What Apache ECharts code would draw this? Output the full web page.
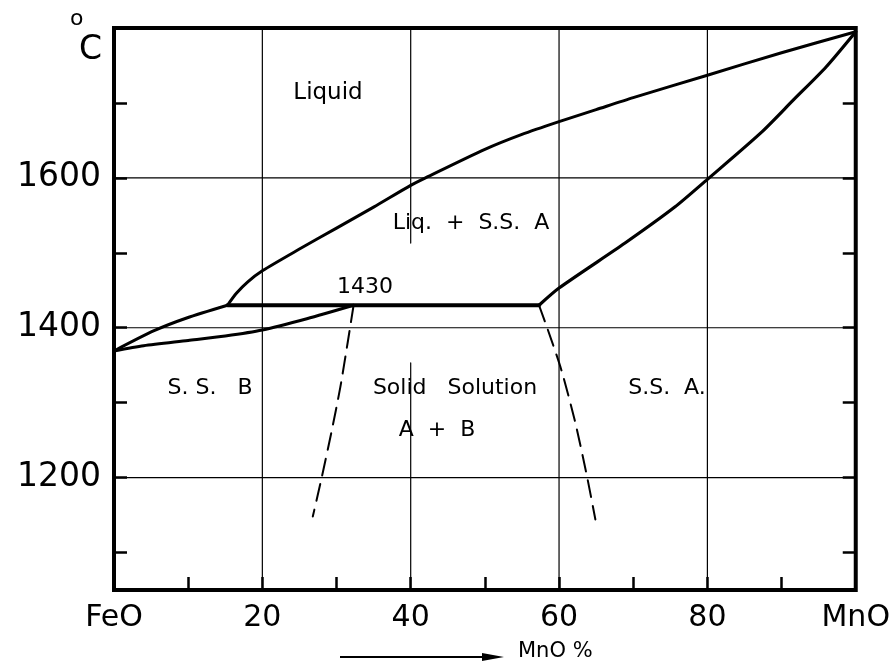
<!DOCTYPE html>
<html>
<head>
<meta charset="utf-8">
<script src="https://cdn.jsdelivr.net/npm/echarts@6/dist/echarts.min.js"></script>
<style>
html, body { margin: 0; padding: 0; background: #fff; }
#chart { width: 893px; height: 668px; }
</style>
</head>
<body>
<div id="chart"></div>
<script>
// FeO–MnO binary system: temperature (°C) against composition (% MnO)

// Axis ticks and their labels
const xTickValues = [0, 20, 40, 60, 80, 100];
const xTickLabels = ['FeO', '20', '40', '60', '80', 'MnO'];
const xMinorTicks = [10, 20, 30, 40, 50, 60, 70, 80, 90];
const yTickValues = [1200, 1400, 1600];
const yTickLabels = ['1200', '1400', '1600'];
const yMinorTicks = [1100, 1200, 1300, 1400, 1500, 1600, 1700];

// Peritectic isotherm
const peritecticTemp = 1430;

// Liquidus on the FeO side, up to the peritectic point
const liquidusFeO = [[0, 1369], [5.4, 1396], [9.8, 1413], [15.3, 1430]];
// Liquidus from the peritectic point up to pure MnO
const liquidusMnO = [[15.3, 1430], [16.5, 1446], [18, 1461], [20, 1476], [25, 1505], [30, 1533],
  [35, 1561], [40, 1590], [42, 1600], [50, 1638], [55, 1658], [60, 1675], [65, 1691],
  [70, 1707], [80, 1737], [90, 1767], [100, 1795]];
// Solidus of solid solution B
const solidusB = [[0, 1369], [4, 1376], [10, 1383], [15, 1389], [20, 1397], [26, 1412], [32.3, 1430]];
// Solidus of solid solution A
const solidusA = [[57.3, 1430], [60, 1453], [68.9, 1513], [75.6, 1561], [80, 1598],
  [87.2, 1660], [91.6, 1704], [96, 1748], [100, 1795]];
// Ends of the peritectic isotherm
const isothermX = [15.3, 57.3];
// Solubility limits below the isotherm (estimated, dashed)
const solvusB = [[32.3, 1430], [31.5, 1380], [30.5, 1320], [29.3, 1260], [28, 1200], [26.8, 1148]];
const solvusA = [[57.3, 1430], [58.5, 1397], [60.3, 1344], [62.2, 1273], [63.8, 1200], [64.9, 1144]];

// Grid lines; the 40 % line is broken between the two field labels
const gridX = [20, 40, 60, 80];
const gridXGap = { x: 40, from: 1353, to: 1513 };
const gridY = [1200, 1400, 1600];

const X_MIN = 0, X_MAX = 100, Y_MIN = 1050, Y_MAX = 1800;
const FONT = 'DejaVu Sans';

function lineSeries(data, width, dashed, smooth) {
  return {
    type: 'line',
    data: data,
    symbol: 'none',
    smooth: smooth ? 0.25 : false,
    silent: true,
    lineStyle: { color: '#000', width: width, type: dashed ? [17, 9] : 'solid', cap: 'round', join: 'round' },
    z: dashed ? 3 : 4
  };
}

const series = [];
// vertical grid lines
gridX.forEach(function (x) {
  if (x === gridXGap.x) {
    series.push(lineSeries([[x, Y_MIN], [x, gridXGap.from]], 1.2));
    series.push(lineSeries([[x, gridXGap.to], [x, Y_MAX]], 1.2));
  } else {
    series.push(lineSeries([[x, Y_MIN], [x, Y_MAX]], 1.2));
  }
});
// horizontal grid lines
gridY.forEach(function (y) {
  series.push(lineSeries([[X_MIN, y], [X_MAX, y]], 1.2));
});
series.forEach(function (s) { s.z = 1; });

series.push(lineSeries(liquidusFeO, 3, false, true));
series.push(lineSeries(liquidusMnO, 3, false, true));
series.push(lineSeries(solidusB, 3, false, true));
series.push(lineSeries(solidusA, 3.2, false, true));
series.push(lineSeries(isothermX.map(function (x) { return [x, peritecticTemp]; }), 4));
series.push(lineSeries(solvusB, 2, true, true));
series.push(lineSeries(solvusA, 2, true, true));

const chart = echarts.init(document.getElementById('chart'), null, { renderer: 'canvas' });

const option = {
  animation: false,
  backgroundColor: '#fff',
  grid: {
    left: 114, top: 28, width: 749, height: 562,
    show: true, borderColor: '#000', borderWidth: 4, backgroundColor: 'transparent'
  },
  xAxis: {
    type: 'value', min: X_MIN, max: X_MAX,
    axisLine: { show: false },
    splitLine: { show: false },
    axisTick: {
      show: true, inside: true, length: 13, customValues: xMinorTicks,
      lineStyle: { color: '#000', width: 2.5 }
    },
    axisLabel: {
      show: true, customValues: xTickValues, margin: 13,
      fontFamily: FONT, fontSize: 30, color: '#000',
      formatter: function (v) { return xTickLabels[xTickValues.indexOf(v)]; }
    }
  },
  yAxis: [{
    type: 'value', min: Y_MIN, max: Y_MAX, position: 'left',
    axisLine: { show: false },
    splitLine: { show: false },
    axisTick: {
      show: true, inside: true, length: 13, customValues: yMinorTicks,
      lineStyle: { color: '#000', width: 2.5 }
    },
    axisLabel: {
      show: true, customValues: yTickValues, margin: 13,
      fontFamily: FONT, fontSize: 33, color: '#000',
      padding: [0, 0, 18, 0],
      formatter: function (v) { return yTickLabels[yTickValues.indexOf(v)]; }
    }
  }, {
    type: 'value', min: Y_MIN, max: Y_MAX, position: 'right',
    axisLine: { show: false },
    splitLine: { show: false },
    axisTick: {
      show: true, inside: true, length: 13, customValues: yMinorTicks,
      lineStyle: { color: '#000', width: 2.5 }
    },
    axisLabel: { show: false }
  }],
  series: series,
  graphic: [
    // unit of the temperature axis
    { type: 'text', left: 70, top: 8, style: { text: 'o', font: '22px "DejaVu Sans"', fill: '#000' } },
    { type: 'text', left: 79, top: 34, style: { text: 'C', font: '33px "DejaVu Sans"', fill: '#000' } },
    // phase field labels
    { type: 'text', x: 328, y: 93, style: { text: 'Liquid', font: '23px "DejaVu Sans"', fill: '#000', align: 'center', verticalAlign: 'middle' } },
    { type: 'text', x: 471, y: 223, style: { text: 'Liq.  +  S.S.  A', font: '22px "DejaVu Sans"', fill: '#000', align: 'center', verticalAlign: 'middle' } },
    { type: 'text', x: 365, y: 287, style: { text: String(peritecticTemp), font: '22px "DejaVu Sans"', fill: '#000', align: 'center', verticalAlign: 'middle' } },
    { type: 'text', x: 210, y: 388, style: { text: 'S. S.   B', font: '22px "DejaVu Sans"', fill: '#000', align: 'center', verticalAlign: 'middle' } },
    { type: 'text', x: 455, y: 388, style: { text: 'Solid   Solution', font: '22px "DejaVu Sans"', fill: '#000', align: 'center', verticalAlign: 'middle' } },
    { type: 'text', x: 437, y: 430, style: { text: 'A  +  B', font: '22px "DejaVu Sans"', fill: '#000', align: 'center', verticalAlign: 'middle' } },
    { type: 'text', x: 667, y: 388, style: { text: 'S.S.  A.', font: '22px "DejaVu Sans"', fill: '#000', align: 'center', verticalAlign: 'middle' } },
    // composition direction arrow
    { type: 'line', shape: { x1: 340, y1: 657, x2: 490, y2: 657 }, style: { stroke: '#000', lineWidth: 2 } },
    { type: 'polygon', shape: { points: [[482, 653], [504, 657], [482, 661]] }, style: { fill: '#000' } },
    { type: 'text', x: 518, y: 652, style: { text: 'MnO %', font: '21px "DejaVu Sans"', fill: '#000', align: 'left', verticalAlign: 'middle' } }
  ]
};

chart.setOption(option);
</script>
</body>
</html>
